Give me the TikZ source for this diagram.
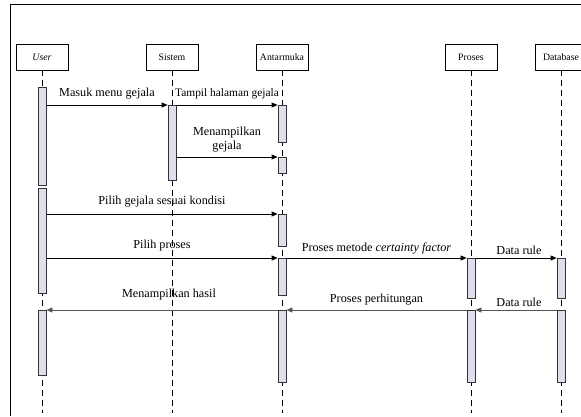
\documentclass[tikz,border=0pt]{standalone}
\usepackage{fontspec}
\setmainfont{Liberation Serif}
\usetikzlibrary{arrows.meta}
\usetikzlibrary{positioning}
\definecolor{barfill}{RGB}{222,222,236}
\definecolor{retline}{RGB}{85,85,85}

\begin{document}
\begin{tikzpicture}[x=1pt, y=-1pt,
        actor/.style={draw, rectangle, line width=0.7pt, minimum width=52pt, minimum height=26pt, inner sep=1pt, font=\fontsize{9.8}{11}\selectfont},
        bar/.style={draw=black!80, fill=barfill, line width=0.7pt, rectangle, minimum width=8pt, inner sep=0pt, anchor=north},
        lifeline/.style={line width=0.7pt, dash pattern=on 6pt off 4pt},
        msg/.style={line width=0.7pt, -{Triangle[length=6pt,width=5pt]}},
        ret/.style={msg, draw=retline},
        lbl/.style={font=\fontsize{12.2}{13.5}\selectfont, inner sep=1pt}]

    \useasboundingbox (0,0) rectangle (581,416);

    % Frame
    \draw[line width=0.7pt] (581,4) -- (10,4) -- (10,416);

    % Actors
    \node [actor] (user) at (42,57) {\textit{User}};
    \node [actor] (sistem) at (172,57) {Sistem};
    \node [actor] (antarmuka) at (282,57) {Antarmuka};
    \node [actor] (proses) at (471,57) {Proses};
    \node [actor] (database) at (561,57) {Database};

    % Lifelines
    \coordinate (bottom) at (0,413);
    \foreach \a in {user, sistem, antarmuka, proses, database}
        \draw [lifeline] (\a.south) -- (\a.south |- bottom);

    % Activation bars
    \node [bar, minimum height=98pt] (ub1) at (42,87) {};
    \node [bar, minimum height=105pt] (ub2) at (42,188) {};
    \node [bar, minimum height=65pt] (ub3) at (42,310) {};
    \node [bar, minimum height=75pt] (sb1) at (172,105) {};
    \node [bar, minimum height=37pt] (ab1) at (282,105) {};
    \node [bar, minimum height=16pt] (ab2) at (282,157) {};
    \node [bar, minimum height=32pt] (ab3) at (282,214) {};
    \node [bar, minimum height=37pt] (ab4) at (282,258) {};
    \node [bar, minimum height=72pt] (ab5) at (282,310) {};
    \node [bar, minimum height=40pt] (pb1) at (471,258) {};
    \node [bar, minimum height=72pt] (pb2) at (471,310) {};
    \node [bar, minimum height=40pt] (db1) at (561,258) {};
    \node [bar, minimum height=72pt] (db2) at (561,310) {};

    % Messages
    \draw [msg] (ub1.east |- sb1.north) -- (sb1.north west) node[lbl, midway, above=5pt] {Masuk menu gejala};
    \draw [msg] (sb1.north east) -- (ab1.north west) node[lbl, midway, above=5pt, font=\fontsize{11.4}{13}\selectfont] {Tampil halaman gejala};
    \draw [msg] (sb1.east |- ab2.north) -- (ab2.north west) node[lbl, midway, above=4pt, align=center] {Menampilkan\\gejala};
    \draw [msg] (ub2.east |- ab3.north) -- (ab3.north west) node[lbl, midway, above=6pt] {Pilih gejala sesuai kondisi};
    \draw [msg] (ub2.east |- ab4.north) -- (ab4.north west) node[lbl, midway, above=6pt] {Pilih proses};
    \draw [msg] (ab4.north east) -- (pb1.north west) node[lbl, midway, above=3pt] {Proses metode \textit{certainty factor}};
    \draw [msg] (pb1.north east) -- (db1.north west) node[lbl, midway, above=2pt, xshift=3pt] {Data rule};

    % Return messages
    \draw [ret] (db2.north west) -- (pb2.north east) node[lbl, midway, above=2pt, xshift=3pt] {Data rule};
    \draw [ret] (pb2.north west) -- (ab5.north east) node[lbl, midway, above=4pt] {Proses perhitungan};
    \draw [ret] (ab5.north west) -- (ub3.north east) node[lbl, midway, above=9pt, xshift=7pt] {Menampilkan hasil};

\end{tikzpicture}
\end{document}
